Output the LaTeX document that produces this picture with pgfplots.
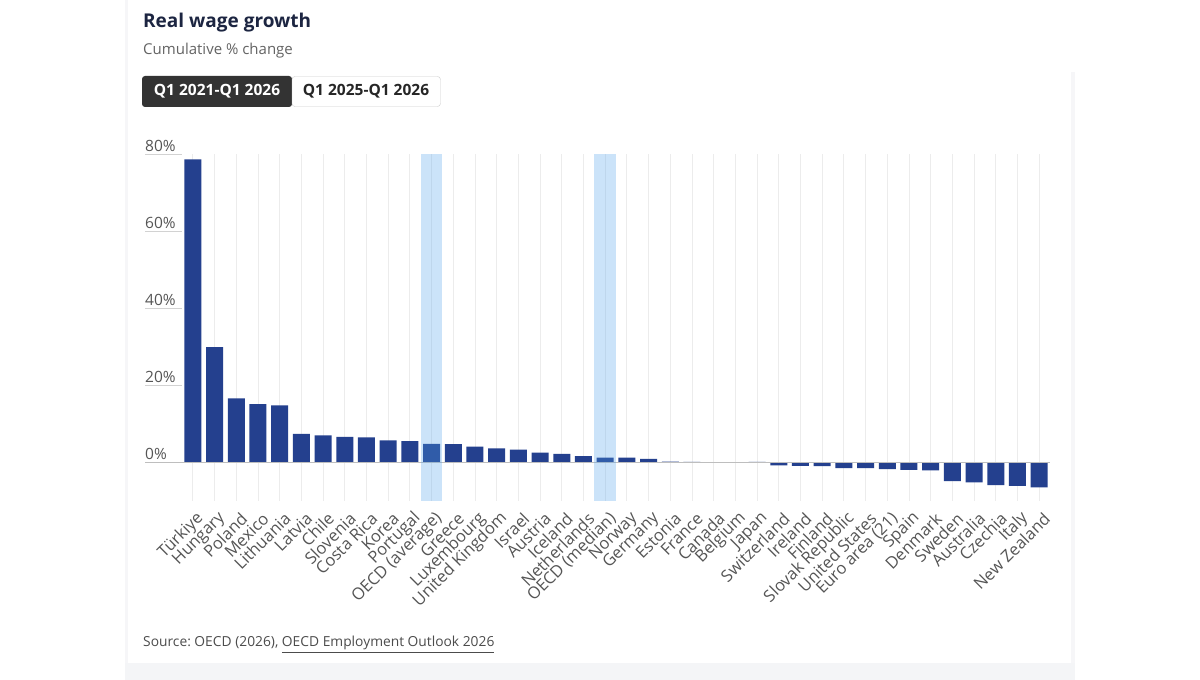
\documentclass[border=0pt]{standalone}
\usepackage{pgfplots}
\pgfplotsset{compat=1.18}
\usepackage{fontspec}
\setmainfont{Open Sans}
\frenchspacing

\definecolor{barblue}{RGB}{36,64,142}
\definecolor{bandblue}{RGB}{78,161,237}
\definecolor{titlecol}{RGB}{28,37,65}
\definecolor{subcol}{RGB}{100,100,100}
\definecolor{labelcol}{RGB}{85,85,85}
\definecolor{gridcol}{RGB}{236,236,236}
\definecolor{zerocol}{RGB}{190,190,190}
\definecolor{tickcol}{RGB}{210,210,210}
\definecolor{btndark}{RGB}{51,51,51}
\definecolor{btnborder}{RGB}{204,204,204}
\definecolor{cardedge}{RGB}{246,246,248}
\definecolor{pagegrey}{RGB}{244,245,247}

\newcommand{\px}[1]{\fontsize{#1}{#1}\selectfont}

\begin{document}
\begin{tikzpicture}[x=1pt,y=1pt]
% page and card
\fill[white] (0pt,0pt) rectangle (1200pt,680pt);
\fill[pagegrey] (125pt,0pt) rectangle (1075pt,17pt);
\fill[cardedge] (125pt,17pt) rectangle (128pt,680pt);
\fill[cardedge] (1071pt,17pt) rectangle (1075pt,608pt);

% heading
\node[anchor=base west, inner sep=0, text=titlecol, font=\px{19}\bfseries] at (143pt,652pt) {Real wage growth};
\node[anchor=base west, inner sep=0, text=subcol, font=\px{15}] at (143pt,625pt) {Cumulative \% change};

% period selector
\fill[btndark, rounded corners=3pt] (142pt,573pt) rectangle (292pt,604pt);
\node[text=white, font=\px{15.5}\bfseries, inner sep=0] at (217pt,588.5pt) {Q1 2021-Q1 2026};
\draw[btnborder, fill=white, rounded corners=3pt] (292pt,573.5pt) rectangle (440.5pt,603.5pt);
\node[text=black!85, font=\px{15.5}\bfseries, inner sep=0] at (366pt,588.5pt) {Q1 2025-Q1 2026};

% source
\node[anchor=base west, inner sep=0, text=black!70, font=\px{13.8}] at (143pt,33pt)
  {Source: OECD (2026), \underline{OECD Employment Outlook 2026}};

\begin{axis}[
  at={(182pt,179.2pt)}, anchor=south west,
  scale only axis, width=868pt, height=346.5pt,
  xmin=-0.5, xmax=39.5, ymin=-10, ymax=80,
  clip=false,
  axis line style={draw=none},
  major tick length=0pt,
  ytick=\empty,
  xtick={0,...,39},
  xticklabels={T\"urkiye,Hungary,Poland,Mexico,Lithuania,Latvia,Chile,Slovenia,Costa Rica,Korea,Portugal,OECD (average),Greece,Luxembourg,United Kingdom,Israel,Austria,Iceland,Netherlands,OECD (median),Norway,Germany,Estonia,France,Canada,Belgium,Japan,Switzerland,Ireland,Finland,Slovak Republic,United States,Euro area (21),Spain,Denmark,Sweden,Australia,Czechia,Italy,New Zealand},
  xticklabel style={xshift=8pt, yshift=-15pt, rotate=45, anchor=east, inner sep=0pt, font=\px{16.5}, text=labelcol},
  xmajorgrids,
  grid style={gridcol, line width=0.8pt},
  ybar, bar width=17pt,
]
% short guide lines under the y labels
\pgfplotsinvokeforeach{20,40,60,80}{
  \draw[tickcol, line width=1.5pt] ([xshift=-37pt]axis cs:-0.5,#1) -- (axis cs:-0.5,#1);
}
\pgfplotsinvokeforeach{0,20,40,60,80}{
  \node[anchor=base west, inner sep=0, text=labelcol, font=\px{15.5}] at ([xshift=-37pt,yshift=3pt]axis cs:-0.5,#1) {#1\%};
}

\addplot[fill=barblue, draw=none] coordinates {
  (0,78.7) (1,29.9) (2,16.6) (3,15.1) (4,14.8) (5,7.4) (6,7.0) (7,6.6)
  (8,6.5) (9,5.7) (10,5.5) (11,4.8) (12,4.7) (13,4.1) (14,3.6) (15,3.3)
  (16,2.5) (17,2.2) (18,1.6) (19,1.2) (20,1.2) (21,0.9) (22,0.15) (23,0.1)
  (24,0.0) (25,0.0) (26,0.1) (27,-0.8) (28,-0.95) (29,-1.0) (30,-1.5) (31,-1.5)
  (32,-1.8) (33,-2.0) (34,-2.1) (35,-4.9) (36,-5.2) (37,-5.9) (38,-6.1) (39,-6.5)
};

% zero line
\draw[zerocol, line width=1pt] ([xshift=-37pt]axis cs:-0.5,0) -- (axis cs:39.5,0);

% OECD average and median highlight bands
\fill[bandblue, fill opacity=0.29] (axis cs:10.5,-10) rectangle (axis cs:11.5,80);
\fill[bandblue, fill opacity=0.29] (axis cs:18.5,-10) rectangle (axis cs:19.5,80);
\end{axis}
\pgfresetboundingbox
\useasboundingbox (0pt,0pt) rectangle (1200pt,680pt);
\end{tikzpicture}
\end{document}
